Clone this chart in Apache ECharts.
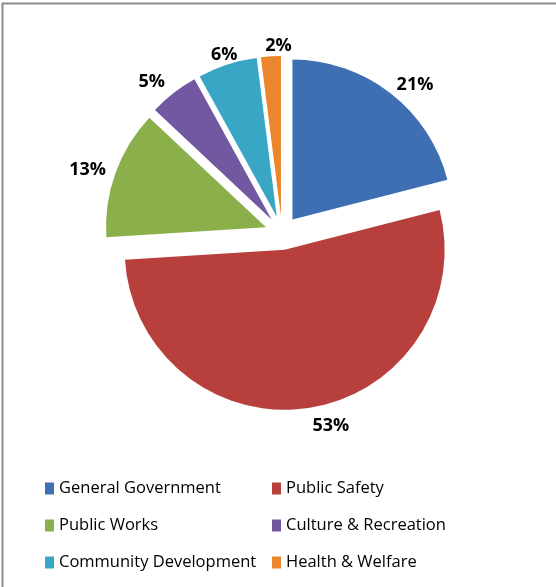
<!DOCTYPE html>
<html>
<head>
<meta charset="utf-8">
<script src="https://cdn.jsdelivr.net/npm/echarts@6/dist/echarts.min.js"></script>
<style>
html,body{margin:0;padding:0;background:#fff;}
#chart{width:556px;height:587px;}
</style>
</head>
<body>
<div id="chart"></div>
<script>
const categories = ['General Government', 'Public Safety', 'Public Works', 'Culture & Recreation', 'Community Development', 'Health & Welfare'];
const values = [21, 53, 13, 5, 6, 2];
const colors = ['#3d6fb2', '#b7403c', '#8bb04b', '#7258a0', '#3aa6c6', '#ea872c'];
const legendLeftCol = ['General Government', 'Public Works', 'Community Development'];
const legendRightCol = ['Public Safety', 'Culture & Recreation', 'Health & Welfare'];
// label styling per slice (alignment, leader length, gap)
const labelAligns = ['left', 'left', 'right', 'right', 'center', 'left'];
const labelLengths = [10, 18, 10, 14, 10, 10];
const labelGaps = [0, 0, 0, 0, 0, 5];

const chart = echarts.init(document.getElementById('chart'), null, {renderer: 'canvas'});

const legendBase = {
  orient: 'vertical',
  top: 480,
  padding: 0,
  itemWidth: 9,
  itemHeight: 12,
  itemGap: 20,
  icon: 'rect',
  selectedMode: false,
  textStyle: {fontFamily: 'Open Sans', fontSize: 16.5, color: '#000', lineHeight: 17}
};

chart.setOption({
  animation: false,
  color: colors,
  graphic: [{
    type: 'rect',
    shape: {x: 2.5, y: 3.5, width: 700, height: 700},
    style: {fill: 'none', stroke: '#8c8c8c', lineWidth: 2},
    silent: true
  }],
  legend: [
    Object.assign({}, legendBase, {left: 45, data: legendLeftCol}),
    Object.assign({}, legendBase, {left: 272, data: legendRightCol})
  ],
  series: [{
    type: 'pie',
    center: [282, 233],
    radius: [0, 160],
    startAngle: 90,
    clockwise: true,
    selectedMode: 'multiple',
    selectedOffset: 17,
    avoidLabelOverlap: false,
    itemStyle: {borderWidth: 0},
    label: {
      show: true,
      position: 'outside',
      formatter: '{c}%',
      fontFamily: 'Open Sans',
      fontWeight: 'bold',
      fontSize: 18,
      color: '#000'
    },
    labelLine: {show: false, length: 10, length2: 0},
    labelLayout: function (params) {
      return {align: labelAligns[params.dataIndex]};
    },
    emphasis: {disabled: true},
    data: categories.map((name, i) => ({
      name: name,
      value: values[i],
      selected: true,
      label: {distanceToLabelLine: labelGaps[i]},
      labelLine: {show: false, length: labelLengths[i], length2: 0}
    }))
  }]
});
</script>
</body>
</html>
